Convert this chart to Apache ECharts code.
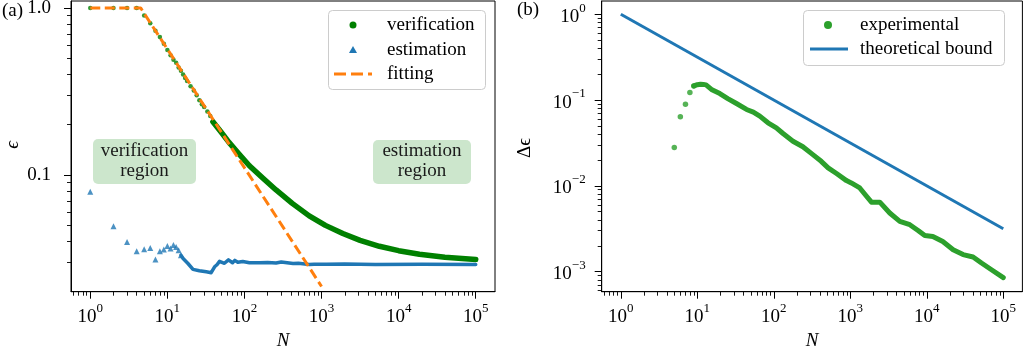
<!DOCTYPE html>
<html><head><meta charset="utf-8">
<script src="https://cdn.jsdelivr.net/npm/echarts@6/dist/echarts.min.js"></script>
<style>html,body{margin:0;padding:0;background:#fff}#c{width:1026px;height:353px}</style>
</head><body><div id="c"></div>
<script>
// ---------- data ----------
// panel (a)
const verifDotN   = [1, 2, 3, 4, 5, 6, 7, 8, 9, 10, 11, 12, 13, 14, 15, 16, 17, 18, 20, 22, 24, 26, 28, 30, 33, 36, 39];
const verifDotEps = [1.0, 1.0, 1.0, 1.0, 0.90, 0.81, 0.73, 0.67, 0.61, 0.56, 0.52, 0.49, 0.47, 0.44, 0.42, 0.40, 0.38, 0.365, 0.34, 0.32, 0.30, 0.28, 0.265, 0.255, 0.24, 0.225, 0.21];
const verifLineN   = [39, 50, 63, 85, 116, 174, 257, 417, 692, 1122, 1888, 3162, 5623, 10000, 18620, 39800, 100000];
const verifLineEps = [0.208, 0.180, 0.1567, 0.1334, 0.1135, 0.0955, 0.0813, 0.0676, 0.0569, 0.0499, 0.0446, 0.0406, 0.0374, 0.0352, 0.0335, 0.0322, 0.0312];
const estDotN   = [1, 2, 3, 4, 5, 6, 7, 8, 9, 10, 11, 12, 13, 14, 15];
const estDotEps = [0.0792, 0.0493, 0.0397, 0.0349, 0.0359, 0.0365, 0.0312, 0.0349, 0.0358, 0.0376, 0.0363, 0.0381, 0.0371, 0.0354, 0.0331];
const estLineN   = [15, 16, 18.5, 21.5, 26, 32, 37, 41, 44, 47.5, 50, 55, 58, 62, 64, 70, 75, 82, 95, 116, 120, 157, 200, 257, 300, 427, 500, 692, 800, 1150, 2000, 5000, 20000, 100000];
const estLineEps = [0.0331, 0.0316, 0.0295, 0.0272, 0.0267, 0.0263, 0.0260, 0.0282, 0.0290, 0.0304, 0.0311, 0.0296, 0.0295, 0.0310, 0.0306, 0.0298, 0.0308, 0.0300, 0.0303, 0.0298, 0.0303, 0.0298, 0.0299, 0.0297, 0.0301, 0.0295, 0.0296, 0.0291, 0.0292, 0.0292, 0.0293, 0.0291, 0.0292, 0.0291];
const fitN   = [1, 4.5, 1000];
const fitEps = [1.0, 1.0, 0.0215];
// panel (b)
const expDotN   = [5, 6, 7, 8, 9];
const expDotVal = [0.028, 0.064, 0.089, 0.122, 0.146];
const expLineN   = [9, 10, 11, 12, 13, 15.3, 19.7, 25, 32.5, 44, 54, 65.6, 84, 108, 132, 178, 240, 324, 417, 513, 661, 891, 1030, 1330, 1620, 1890, 2430, 3280, 4440, 6000, 7690, 9420, 12000, 16200, 22100, 29800, 40300, 51900, 70100, 100000];
const expLineVal = [0.146, 0.151, 0.153, 0.152, 0.150, 0.133, 0.119, 0.104, 0.091, 0.0776, 0.0723, 0.0649, 0.0543, 0.0474, 0.0407, 0.0331, 0.0285, 0.0231, 0.0193, 0.0162, 0.0139, 0.0115, 0.0108, 0.00944, 0.0076, 0.00645, 0.00645, 0.00482, 0.00385, 0.00352, 0.00302, 0.00263, 0.00257, 0.00224, 0.0018, 0.00158, 0.00148, 0.00126, 0.00105, 0.00085];
const theoN   = [1, 100000];
const theoVal = [1.0, 0.00316];
// ticks
const xMajor = [1, 10, 100, 1000, 10000, 100000];
const xMinor = [0.6, 0.7, 0.8, 0.9, 2, 3, 4, 5, 6, 7, 8, 9, 20, 30, 40, 50, 60, 70, 80, 90, 200, 300, 400, 500, 600, 700, 800, 900, 2000, 3000, 4000, 5000, 6000, 7000, 8000, 9000, 20000, 30000, 40000, 50000, 60000, 70000, 80000, 90000];
const yaMajor = [0.1, 1];
const yaMajorLabels = ['0.1', '1.0'];
const yaMinor = [0.03, 0.04, 0.05, 0.06, 0.07, 0.08, 0.09, 0.2, 0.3, 0.4, 0.5, 0.6, 0.7, 0.8, 0.9];
const ybMajor = [0.001, 0.01, 0.1, 1];
const ybMinor = [0.0006, 0.0007, 0.0008, 0.0009, 0.002, 0.003, 0.004, 0.005, 0.006, 0.007, 0.008, 0.009, 0.02, 0.03, 0.04, 0.05, 0.06, 0.07, 0.08, 0.09, 0.2, 0.3, 0.4, 0.5, 0.6, 0.7, 0.8, 0.9];

// ---------- chart ----------
const FONT = '"Liberation Serif", "DejaVu Serif", serif';
const zip = (a, b) => a.map((v, i) => [v, b[i]]);
const supLabel = v => {
  const e = Math.round(Math.log10(v));
  return '{b|10}{s|' + (e < 0 ? '\u2212' + (-e) : e) + '}';
};
const rich = {
  b: {fontFamily: FONT, fontSize: 19, color: '#000', lineHeight: 30},
  s: {fontFamily: FONT, fontSize: 13, color: '#000', lineHeight: 12, verticalAlign: 'top'}
};
function majorAxis(grid, kind, min, max, vals, fmt, extra) {
  return {
    gridIndex: grid, type: 'log', logBase: 10, min: min, max: max,
    position: kind === 'x' ? 'bottom' : 'left',
    axisLine: {show: true, onZero: false, lineStyle: {color: '#000', width: 1}},
    axisTick: {show: true, length: 7, lineStyle: {color: '#000', width: 1}, customValues: vals},
    axisLabel: Object.assign({show: true, customValues: vals, formatter: fmt, color: '#000',
      fontFamily: FONT, fontSize: 19, rich: rich}, extra || {}),
    splitLine: {show: false}, minorTick: {show: false}, minorSplitLine: {show: false}
  };
}
function minorAxis(grid, kind, min, max, vals) {
  return {
    gridIndex: grid, type: 'log', logBase: 10, min: min, max: max,
    position: kind === 'x' ? 'bottom' : 'left',
    axisLine: {show: false, onZero: false},
    axisTick: {show: true, length: 4, lineStyle: {color: '#000', width: 0.9}, customValues: vals},
    axisLabel: {show: false},
    splitLine: {show: false}
  };
}
const xMin = Math.pow(10, -0.25), xMax = Math.pow(10, 5.25);
const yaMin = 0.02, yaMax = 1.1;
const ybMin = Math.pow(10, -3.234), ybMax = Math.pow(10, 0.154);

const GREEN = '#008000', BLUE = '#1f77b4', ORANGE = '#ff7f0e', TGREEN = '#2ca02c';

const option = {
  backgroundColor: '#fff',
  animation: false,
  grid: [
    {left: 71, top: 1, width: 424, height: 290.7, show: true, borderColor: '#000', borderWidth: 1, backgroundColor: 'transparent', containLabel: false, outerBoundsMode: 'none'},
    {left: 601.7, top: 1, width: 420.7, height: 290.7, show: true, borderColor: '#000', borderWidth: 1, backgroundColor: 'transparent', containLabel: false, outerBoundsMode: 'none'}
  ],
  xAxis: [
    majorAxis(0, 'x', xMin, xMax, xMajor, supLabel, {margin: 10}),
    majorAxis(1, 'x', xMin, xMax, xMajor, supLabel, {margin: 10}),
    minorAxis(0, 'x', xMin, xMax, xMinor),
    minorAxis(1, 'x', xMin, xMax, xMinor)
  ],
  yAxis: [
    majorAxis(0, 'y', yaMin, yaMax, yaMajor, v => yaMajorLabels[yaMajor.findIndex(t => Math.abs(t - v) < 1e-9 * t + 1e-12)] || '', {margin: 20}),
    majorAxis(1, 'y', ybMin, ybMax, ybMajor, supLabel, {margin: 16, padding: [5, 0, 0, 0]}),
    minorAxis(0, 'y', yaMin, yaMax, yaMinor),
    minorAxis(1, 'y', ybMin, ybMax, ybMinor)
  ],
  series: [
    {type: 'line', name: 'verification', xAxisIndex: 0, yAxisIndex: 0, data: zip(verifLineN, verifLineEps),
      showSymbol: false, symbol: 'none', smooth: false, lineStyle: {color: GREEN, width: 5.5, cap: 'round', join: 'round'}, z: 2},
    {type: 'scatter', name: 'verification', xAxisIndex: 0, yAxisIndex: 0, data: zip(verifDotN, verifDotEps),
      symbol: 'circle', symbolSize: 4.5, itemStyle: {color: GREEN}, z: 2},
    {type: 'line', name: 'estimation', xAxisIndex: 0, yAxisIndex: 0, data: zip(estLineN, estLineEps),
      showSymbol: false, symbol: 'none', lineStyle: {color: BLUE, width: 3.5, cap: 'round', join: 'round'}, z: 3},
    {type: 'scatter', name: 'estimation', xAxisIndex: 0, yAxisIndex: 0, data: zip(estDotN, estDotEps),
      symbol: 'triangle', symbolSize: 6, itemStyle: {color: BLUE}, z: 3},
    {type: 'line', name: 'fitting', xAxisIndex: 0, yAxisIndex: 0, data: zip(fitN, fitEps),
      showSymbol: false, symbol: 'none', lineStyle: {color: ORANGE, width: 3, type: [10, 4.5]}, z: 4},
    {type: 'line', name: 'experimental', xAxisIndex: 1, yAxisIndex: 1, data: zip(expLineN, expLineVal),
      showSymbol: false, symbol: 'none', lineStyle: {color: TGREEN, width: 5, cap: 'round', join: 'round'}, z: 2},
    {type: 'scatter', name: 'experimental', xAxisIndex: 1, yAxisIndex: 1, data: zip(expDotN, expDotVal),
      symbol: 'circle', symbolSize: 5.5, itemStyle: {color: TGREEN}, z: 2},
    {type: 'line', name: 'theoretical bound', xAxisIndex: 1, yAxisIndex: 1, data: zip(theoN, theoVal),
      showSymbol: false, symbol: 'none', lineStyle: {color: BLUE, width: 3}, z: 3}
  ],
  graphic: [
    {type: 'text', x: 2, y: 11, style: {text: '(a)', font: '19px ' + FONT, fill: '#000', verticalAlign: 'middle', textVerticalAlign: 'middle'}},
    {type: 'text', x: 517, y: 10, style: {text: '(b)', font: '19px ' + FONT, fill: '#000', verticalAlign: 'middle', textVerticalAlign: 'middle'}},
    {type: 'text', x: 13, y: 145, rotation: Math.PI / 2, style: {text: '\u03f5', font: 'italic 19px ' + FONT, fill: '#000', align: 'center', verticalAlign: 'middle', textAlign: 'center', textVerticalAlign: 'middle'}},
    {type: 'text', x: 525, y: 148, rotation: Math.PI / 2, style: {text: '\u0394\u03f5', font: '19px ' + FONT, fill: '#000', align: 'center', verticalAlign: 'middle', textAlign: 'center', textVerticalAlign: 'middle'}},
    {type: 'text', x: 283, y: 341, style: {text: 'N', font: 'italic 19px ' + FONT, fill: '#000', align: 'center', verticalAlign: 'middle', textAlign: 'center', textVerticalAlign: 'middle'}},
    {type: 'text', x: 812, y: 341, style: {text: 'N', font: 'italic 19px ' + FONT, fill: '#000', align: 'center', verticalAlign: 'middle', textAlign: 'center', textVerticalAlign: 'middle'}},
    {type: 'rect', shape: {x: 93, y: 139, width: 103, height: 45, r: 5}, style: {fill: 'rgba(0,128,0,0.2)', stroke: 'none'}, z: 1},
    {type: 'text', x: 144.5, y: 161, style: {text: 'verification\nregion', font: '19px ' + FONT, lineHeight: 20, fill: '#1a1a1a', align: 'center', verticalAlign: 'middle', textAlign: 'center', textVerticalAlign: 'middle'}, z: 2},
    {type: 'rect', shape: {x: 373, y: 140, width: 98, height: 44, r: 5}, style: {fill: 'rgba(0,128,0,0.2)', stroke: 'none'}, z: 1},
    {type: 'text', x: 422, y: 161, style: {text: 'estimation\nregion', font: '19px ' + FONT, lineHeight: 20, fill: '#1a1a1a', align: 'center', verticalAlign: 'middle', textAlign: 'center', textVerticalAlign: 'middle'}, z: 2},
    {type: 'rect', shape: {x: 328.5, y: 10.5, width: 157, height: 79, r: 4}, style: {fill: 'rgba(255,255,255,0.8)', stroke: '#cccccc', lineWidth: 1}, z: 10},
    {type: 'circle', shape: {cx: 353, cy: 25, r: 3.5}, style: {fill: GREEN}, z: 11},
    {type: 'polygon', shape: {points: [[353, 46], [349, 53], [357, 53]]}, style: {fill: BLUE}, z: 11},
    {type: 'line', shape: {x1: 334, y1: 74, x2: 372, y2: 74}, style: {stroke: ORANGE, lineWidth: 3, lineDash: [12, 5]}, z: 11},
    {type: 'text', x: 387, y: 25, style: {text: 'verification', font: '19px ' + FONT, fill: '#000', verticalAlign: 'middle', textVerticalAlign: 'middle'}, z: 11},
    {type: 'text', x: 387, y: 50, style: {text: 'estimation', font: '19px ' + FONT, fill: '#000', verticalAlign: 'middle', textVerticalAlign: 'middle'}, z: 11},
    {type: 'text', x: 387, y: 74, style: {text: 'fitting', font: '19px ' + FONT, fill: '#000', verticalAlign: 'middle', textVerticalAlign: 'middle'}, z: 11},
    {type: 'rect', shape: {x: 803.5, y: 10.5, width: 201, height: 55, r: 4}, style: {fill: 'rgba(255,255,255,0.8)', stroke: '#cccccc', lineWidth: 1}, z: 10},
    {type: 'circle', shape: {cx: 828, cy: 25, r: 4}, style: {fill: TGREEN}, z: 11},
    {type: 'line', shape: {x1: 810, y1: 49, x2: 848, y2: 49}, style: {stroke: BLUE, lineWidth: 3}, z: 11},
    {type: 'text', x: 860, y: 25, style: {text: 'experimental', font: '19px ' + FONT, fill: '#000', verticalAlign: 'middle', textVerticalAlign: 'middle'}, z: 11},
    {type: 'text', x: 860, y: 49, style: {text: 'theoretical bound', font: '19px ' + FONT, fill: '#000', verticalAlign: 'middle', textVerticalAlign: 'middle'}, z: 11}
  ]
};
const chart = echarts.init(document.getElementById('c'), null, {renderer: 'canvas'});
chart.setOption(option);
</script>
</body></html>
